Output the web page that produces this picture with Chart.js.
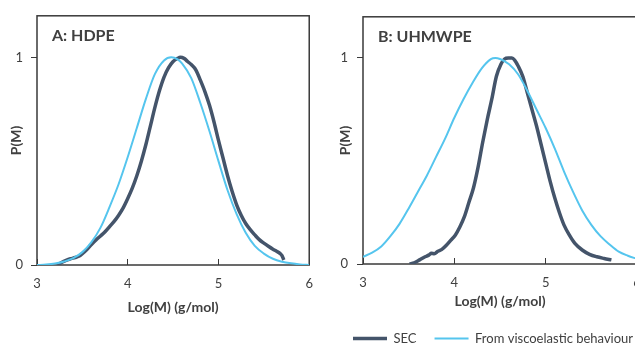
<!DOCTYPE html>
<html lang="en">
<head>
<meta charset="UTF-8">
<title>P(M) - HDPE / UHMWPE</title>
<style>
  html, body { margin: 0; padding: 0; background: #fff; overflow: hidden; }
  body { width: 635px; height: 345px; position: relative; }
  #chartA { position: absolute; left: 0; top: 0; }
  #chartB { position: absolute; left: 330px; top: 0; }
</style>
</head>
<body>
<canvas id="chartA" width="330" height="345"></canvas>
<canvas id="chartB" width="330" height="355"></canvas>

<script src="https://cdn.jsdelivr.net/npm/chart.js"></script>
<script>
// --- data ---
const seriesNames = ['SEC', 'From viscoelastic behaviour'];
const xTicks = [3, 4, 5, 6];
const yTicks = [0, 1];

// A: HDPE
const hdpeSecLogM = [3.22, 3.27, 3.32, 3.37, 3.42, 3.46, 3.5, 3.55, 3.6, 3.65, 3.7, 3.75, 3.8, 3.85, 3.9, 3.95,
  4.0, 4.05, 4.1, 4.15, 4.2, 4.25, 4.3, 4.35, 4.4, 4.45, 4.5, 4.55, 4.58, 4.62, 4.66, 4.7, 4.75, 4.8, 4.85,
  4.9, 4.95, 5.0, 5.05, 5.1, 5.15, 5.2, 5.25, 5.3, 5.35, 5.4, 5.45, 5.5, 5.55, 5.6, 5.64, 5.68, 5.7, 5.72];
const hdpeSecP = [0, 0.012, 0.022, 0.03, 0.036, 0.042, 0.055, 0.075, 0.098, 0.12, 0.14, 0.16, 0.185, 0.21, 0.24, 0.275,
  0.32, 0.37, 0.43, 0.5, 0.58, 0.67, 0.76, 0.84, 0.905, 0.95, 0.98, 0.995, 1.0, 0.995, 0.98, 0.965, 0.94, 0.89, 0.835,
  0.77, 0.69, 0.6, 0.515, 0.43, 0.355, 0.29, 0.24, 0.2, 0.17, 0.145, 0.122, 0.105, 0.09, 0.076, 0.066, 0.055, 0.045, 0.024];

const hdpeVeLogM = [3.0, 3.1, 3.2, 3.3, 3.4, 3.5, 3.6, 3.7, 3.8, 3.9, 4.0, 4.1, 4.2, 4.3, 4.4, 4.48, 4.55, 4.6,
  4.7, 4.8, 4.9, 5.0, 5.1, 5.2, 5.3, 5.4, 5.5, 5.6, 5.7, 5.8, 5.9, 6.0];
const hdpeVeP = [0, 0.002, 0.007, 0.017, 0.033, 0.062, 0.11, 0.18, 0.28, 0.39, 0.52, 0.66, 0.8, 0.92, 0.985, 1.0, 0.99, 0.97,
  0.9, 0.78, 0.645, 0.5, 0.36, 0.245, 0.155, 0.092, 0.055, 0.03, 0.016, 0.008, 0.003, 0];

// B: UHMWPE
const uhmwSecLogM = [3.51, 3.56, 3.62, 3.68, 3.72, 3.75, 3.78, 3.82, 3.86, 3.91, 3.96, 4.01, 4.06, 4.11, 4.16, 4.21,
  4.26, 4.31, 4.36, 4.41, 4.46, 4.51, 4.55, 4.59, 4.63, 4.66, 4.7, 4.75, 4.8, 4.85, 4.9, 4.95, 5.0, 5.05, 5.1,
  5.15, 5.2, 5.26, 5.32, 5.4, 5.48, 5.56, 5.64, 5.72];
const uhmwSecP = [0, 0.006, 0.02, 0.035, 0.043, 0.052, 0.05, 0.062, 0.07, 0.09, 0.115, 0.14, 0.18, 0.23, 0.3, 0.37,
  0.47, 0.59, 0.7, 0.8, 0.91, 0.97, 0.995, 1.0, 1.0, 0.99, 0.96, 0.91, 0.83, 0.75, 0.67, 0.58, 0.49, 0.4, 0.32,
  0.25, 0.19, 0.14, 0.1, 0.068, 0.047, 0.035, 0.027, 0.02];

const uhmwVeLogM = [3.0, 3.1, 3.2, 3.3, 3.4, 3.5, 3.6, 3.7, 3.8, 3.9, 4.0, 4.1, 4.2, 4.3, 4.4, 4.45, 4.5, 4.6,
  4.7, 4.8, 4.9, 5.0, 5.1, 5.2, 5.3, 5.4, 5.5, 5.6, 5.7, 5.8, 5.9, 6.0];
const uhmwVeP = [0.035, 0.055, 0.085, 0.135, 0.195, 0.27, 0.35, 0.43, 0.52, 0.61, 0.71, 0.8, 0.88, 0.95, 0.995, 1.0, 0.995, 0.97,
  0.92, 0.84, 0.75, 0.66, 0.56, 0.45, 0.35, 0.26, 0.19, 0.135, 0.095, 0.06, 0.04, 0.025];

// --- styling ---
const SEC_COLOR = '#44546A';
const VE_COLOR = '#55C5EE';
const TEXT_COLOR = '#404040';
const FRAME_COLOR = '#3a3a3a';

Chart.defaults.font.family = "Lato, 'Noto Sans', sans-serif";
Chart.defaults.color = TEXT_COLOR;

const pts = (xs, ys) => xs.map((x, i) => ({x: x, y: ys[i]}));

// frame round the plot area + panel label inside it
const framePlugin = {
  id: 'frame',
  beforeDatasetsDraw(chart) {
    const {ctx, chartArea: a} = chart;
    ctx.save();
    ctx.strokeStyle = FRAME_COLOR;
    ctx.lineWidth = 1.5;
    ctx.strokeRect(a.left, a.top, a.right - a.left, a.bottom - a.top);
    ctx.restore();
  },
  afterDraw(chart, args, opts) {
    const {ctx, chartArea: a} = chart;
    ctx.save();
    ctx.font = "bold 16px Lato, 'Noto Sans', sans-serif";
    ctx.fillStyle = TEXT_COLOR;
    ctx.textBaseline = 'middle';
    ctx.fillText(opts.text, a.left + 15, a.top + 20);
    ctx.restore();
  }
};

function makeChart(id, label, sec, ve, lay) {
  return new Chart(document.getElementById(id), {
    type: 'line',
    data: {
      datasets: [
        // first in the list = drawn on top; legend reversed so SEC comes first
        {label: seriesNames[1], data: ve, borderColor: VE_COLOR, backgroundColor: VE_COLOR, borderWidth: 2},
        {label: seriesNames[0], data: sec, borderColor: SEC_COLOR, backgroundColor: SEC_COLOR, borderWidth: 3.5}
      ]
    },
    plugins: [framePlugin],
    options: {
      responsive: false,
      animation: false,
      elements: {
        point: {radius: 0, hoverRadius: 0},
        line: {cubicInterpolationMode: 'monotone', borderCapStyle: 'butt'}
      },
      layout: {padding: lay.padding},
      scales: {
        x: {
          type: 'linear', min: 3, max: 6,
          afterBuildTicks: s => { s.ticks = xTicks.map(v => ({value: v})); },
          afterFit: s => { s.height = lay.xHeight; },
          ticks: {padding: 17, font: {size: 13}, color: TEXT_COLOR},
          grid: {drawOnChartArea: false, tickLength: -6, color: FRAME_COLOR, lineWidth: 1},
          border: {display: false},
          title: {display: true, text: 'Log(M) (g/mol)', font: {size: 14, weight: 'bold'}, color: TEXT_COLOR,
            padding: {top: 0, bottom: lay.xTitlePad}}
        },
        y: {
          type: 'linear', min: 0, max: 1.2,
          afterBuildTicks: s => { s.ticks = yTicks.map(v => ({value: v})); },
          afterFit: s => { s.width = lay.yWidth; },
          ticks: {padding: lay.yTickPad, font: {size: 13}, color: TEXT_COLOR},
          grid: {drawOnChartArea: false, tickLength: 6, color: FRAME_COLOR, lineWidth: 1},
          border: {display: false},
          title: {display: true, text: 'P(M)', font: {size: 14, weight: 'bold'}, color: TEXT_COLOR,
            padding: {top: lay.yTitlePad, bottom: 0}}
        },
        // empty right-hand strip, only there to set the plot's right edge
        yRight: {
          position: 'right', min: 0, max: 1,
          afterFit: s => { s.width = lay.rightGap; },
          ticks: {display: false},
          grid: {display: false},
          border: {display: false}
        }
      },
      plugins: {
        frame: {text: label},
        tooltip: {enabled: false},
        legend: {
          display: lay.legend,
          position: 'bottom',
          align: 'start',
          reverse: true,
          labels: {
            usePointStyle: true, pointStyle: 'line', pointStyleWidth: 34,
            font: {size: 13}, color: TEXT_COLOR, padding: 18
          }
        }
      }
    }
  });
}

makeChart('chartA', 'A: HDPE', pts(hdpeSecLogM, hdpeSecP), pts(hdpeVeLogM, hdpeVeP), {
  padding: {top: 15, right: 0, bottom: 0, left: 0},
  xHeight: 80, xTitlePad: 29, yWidth: 37, yTickPad: 8, yTitlePad: 8, rightGap: 18, legend: false
});

makeChart('chartB', 'B: UHMWPE', pts(uhmwSecLogM, uhmwSecP), pts(uhmwVeLogM, uhmwVeP), {
  padding: {top: 13, right: 0, bottom: 0, left: 5},
  xHeight: 50, xTitlePad: 4, yWidth: 28, yTickPad: 9, yTitlePad: 2, rightGap: 23, legend: true
});
</script>
</body>
</html>
